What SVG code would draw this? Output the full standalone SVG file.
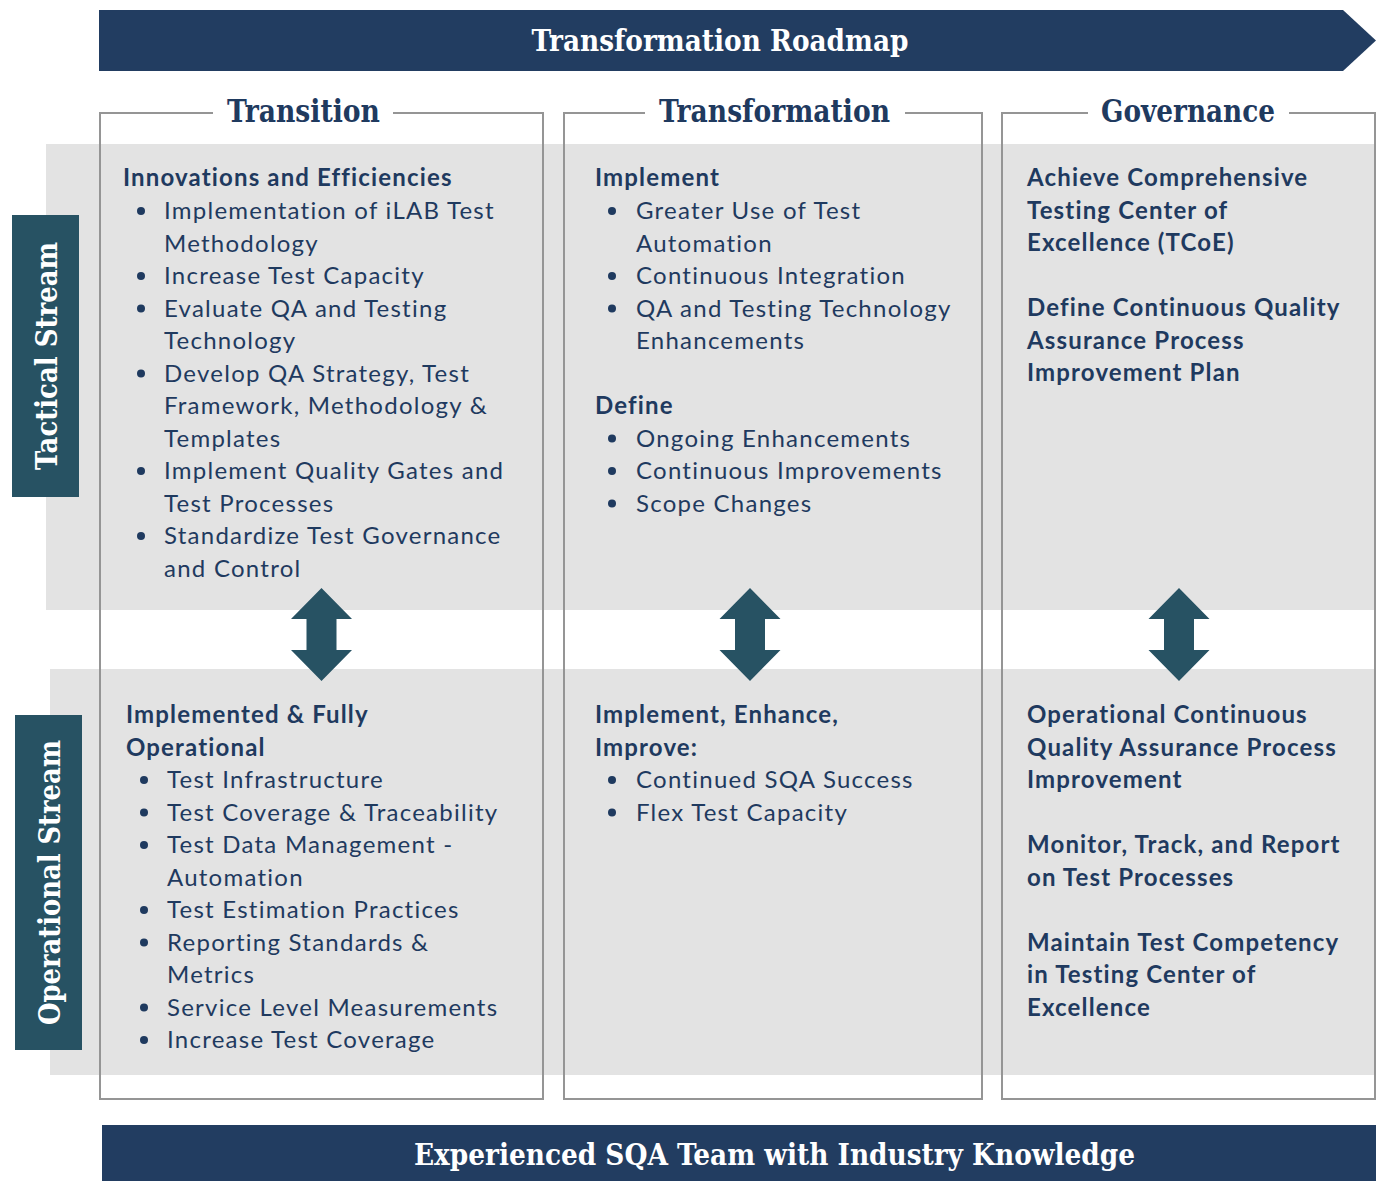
<svg xmlns="http://www.w3.org/2000/svg" width="1376" height="1181" viewBox="0 0 1376 1181">
<style>
.banner{fill:#223d61}
.slab{font-family:"DejaVu Serif","Liberation Serif",serif;font-weight:bold;font-stretch:condensed}
.bt{fill:#ffffff;font-size:30px}
.hd{fill:#1f3a5f;font-size:31px}
.side{fill:#275263}
.band{fill:#e3e3e3}
.box{fill:none;stroke:#959595;stroke-width:2}
.t{font-family:Lato,"Liberation Sans",sans-serif;font-size:24px;fill:#1f3a5f;letter-spacing:1.25px}
.b{font-weight:bold;letter-spacing:1.15px}
.dot{fill:#1f3a5f}
.arr{fill:#275263}
</style>
<defs>
<circle id="bul" r="4" class="dot"/>
<path id="darr" d="M0,-46.5 L30.5,-15.5 L15,-15.5 L15,15.5 L30.5,15.5 L0,46.5 L-30.5,15.5 L-15,15.5 L-15,-15.5 L-30.5,-15.5 Z" class="arr"/>
</defs>

<g id="top-banner">
<path class="banner" d="M99,10 L1343,10 L1376,40.5 L1343,71 L99,71 Z"/>
<text class="slab bt" x="720" y="51" text-anchor="middle" textLength="377" lengthAdjust="spacingAndGlyphs">Transformation Roadmap</text>
</g>

<g id="bands">
<rect class="band" x="46" y="144" width="1329" height="466"/>
<rect class="band" x="50" y="669" width="1325" height="406"/>
</g>

<g id="col-transition">
<path class="box" d="M213,113 L100,113 L100,1099 L543,1099 L543,113 L393,113"/>
<text class="slab hd" x="303.5" y="122" text-anchor="middle" textLength="153" lengthAdjust="spacingAndGlyphs">Transition</text>
</g>
<g id="col-transformation">
<path class="box" d="M645,113 L564,113 L564,1099 L982,1099 L982,113 L905,113"/>
<text class="slab hd" x="774.5" y="122" text-anchor="middle" textLength="231" lengthAdjust="spacingAndGlyphs">Transformation</text>
</g>
<g id="col-governance">
<path class="box" d="M1088,113 L1002,113 L1002,1099 L1375,1099 L1375,113 L1289,113"/>
<text class="slab hd" x="1188" y="122" text-anchor="middle" textLength="174" lengthAdjust="spacingAndGlyphs">Governance</text>
</g>

<g id="tactical-label">
<rect class="side" x="12" y="215" width="67" height="282"/>
<text class="slab bt" transform="translate(57,356) rotate(-90)" text-anchor="middle" textLength="228" lengthAdjust="spacingAndGlyphs">Tactical Stream</text>
</g>
<g id="operational-label">
<rect class="side" x="15" y="715" width="67" height="335"/>
<text class="slab bt" transform="translate(60,882.5) rotate(-90)" text-anchor="middle" textLength="285" lengthAdjust="spacingAndGlyphs">Operational Stream</text>
</g>

<g id="cell-transition-tactical" class="t">
<text class="b" x="123" y="186">Innovations and Efficiencies</text>
<use href="#bul" x="141" y="211"/>
<text x="164" y="219">Implementation of iLAB Test</text>
<text x="164" y="251.5">Methodology</text>
<use href="#bul" x="141" y="276"/>
<text x="164" y="284">Increase Test Capacity</text>
<use href="#bul" x="141" y="308.5"/>
<text x="164" y="316.5">Evaluate QA and Testing</text>
<text x="164" y="349">Technology</text>
<use href="#bul" x="141" y="373.5"/>
<text x="164" y="381.5">Develop QA Strategy, Test</text>
<text x="164" y="414">Framework, Methodology &amp;</text>
<text x="164" y="446.5">Templates</text>
<use href="#bul" x="141" y="471"/>
<text x="164" y="479">Implement Quality Gates and</text>
<text x="164" y="511.5">Test Processes</text>
<use href="#bul" x="141" y="536"/>
<text x="164" y="544">Standardize Test Governance</text>
<text x="164" y="576.5">and Control</text>
</g>

<g id="cell-transformation-tactical" class="t">
<text class="b" x="595" y="186">Implement</text>
<use href="#bul" x="612" y="211"/>
<text x="636" y="219">Greater Use of Test</text>
<text x="636" y="251.5">Automation</text>
<use href="#bul" x="612" y="276"/>
<text x="636" y="284">Continuous Integration</text>
<use href="#bul" x="612" y="308.5"/>
<text x="636" y="316.5">QA and Testing Technology</text>
<text x="636" y="349">Enhancements</text>
<text class="b" x="595" y="414">Define</text>
<use href="#bul" x="612" y="438.5"/>
<text x="636" y="446.5">Ongoing Enhancements</text>
<use href="#bul" x="612" y="471"/>
<text x="636" y="479">Continuous Improvements</text>
<use href="#bul" x="612" y="503.5"/>
<text x="636" y="511.5">Scope Changes</text>
</g>

<g id="cell-governance-tactical" class="t b">
<text x="1027" y="186">Achieve Comprehensive</text>
<text x="1027" y="218.5">Testing Center of</text>
<text x="1027" y="251">Excellence (TCoE)</text>
<text x="1027" y="316">Define Continuous Quality</text>
<text x="1027" y="348.5">Assurance Process</text>
<text x="1027" y="381">Improvement Plan</text>
</g>

<g id="cell-transition-operational" class="t">
<text class="b" x="126" y="723">Implemented &amp; Fully</text>
<text class="b" x="126" y="755.5">Operational</text>
<use href="#bul" x="144" y="780"/>
<text x="167" y="788">Test Infrastructure</text>
<use href="#bul" x="144" y="812.5"/>
<text x="167" y="820.5">Test Coverage &amp; Traceability</text>
<use href="#bul" x="144" y="845"/>
<text x="167" y="853">Test Data Management -</text>
<text x="167" y="885.5">Automation</text>
<use href="#bul" x="144" y="910"/>
<text x="167" y="918">Test Estimation Practices</text>
<use href="#bul" x="144" y="942.5"/>
<text x="167" y="950.5">Reporting Standards &amp;</text>
<text x="167" y="983">Metrics</text>
<use href="#bul" x="144" y="1007.5"/>
<text x="167" y="1015.5">Service Level Measurements</text>
<use href="#bul" x="144" y="1040"/>
<text x="167" y="1048">Increase Test Coverage</text>
</g>

<g id="cell-transformation-operational" class="t">
<text class="b" x="595" y="723">Implement, Enhance,</text>
<text class="b" x="595" y="755.5">Improve:</text>
<use href="#bul" x="612" y="780"/>
<text x="636" y="788">Continued SQA Success</text>
<use href="#bul" x="612" y="812.5"/>
<text x="636" y="820.5">Flex Test Capacity</text>
</g>

<g id="cell-governance-operational" class="t b">
<text x="1027" y="723">Operational Continuous</text>
<text x="1027" y="755.5">Quality Assurance Process</text>
<text x="1027" y="788">Improvement</text>
<text x="1027" y="853">Monitor, Track, and Report</text>
<text x="1027" y="885.5">on Test Processes</text>
<text x="1027" y="950.5">Maintain Test Competency</text>
<text x="1027" y="983">in Testing Center of</text>
<text x="1027" y="1015.5">Excellence</text>
</g>

<g id="connectors">
<use href="#darr" x="321.5" y="634.5"/>
<use href="#darr" x="750" y="634.5"/>
<use href="#darr" x="1179" y="634.5"/>
</g>

<g id="bottom-banner">
<rect class="banner" x="102" y="1125" width="1274" height="56"/>
<text class="slab bt" x="774.5" y="1165" text-anchor="middle" textLength="721" lengthAdjust="spacingAndGlyphs">Experienced SQA Team with Industry Knowledge</text>
</g>
</svg>
